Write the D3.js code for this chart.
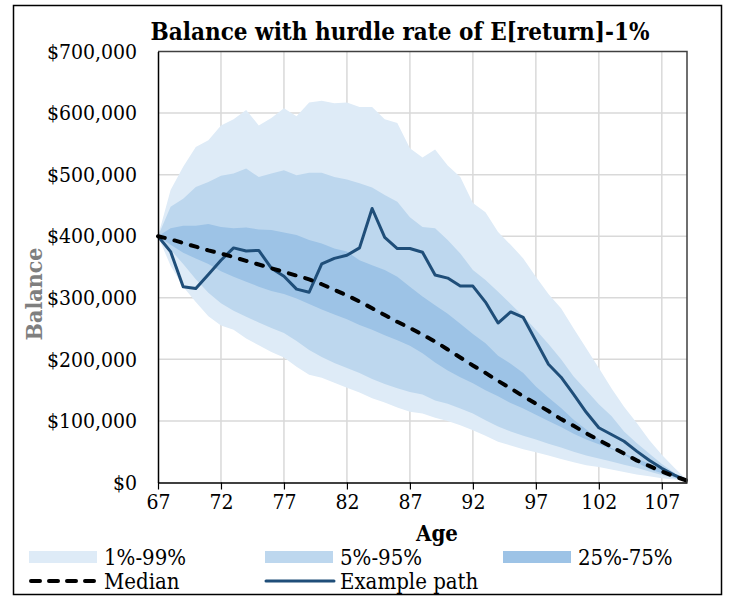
<!DOCTYPE html>
<html>
<head>
<meta charset="utf-8">
<script src="https://cdn.jsdelivr.net/npm/d3@7"></script>
<style>
  body { margin: 0; background: #fff; }
  svg text { font-family: "DejaVu Serif Condensed", "DejaVu Serif", serif; font-stretch: condensed; }
</style>
</head>
<body>
<svg width="729" height="597"></svg>
<script>
// ages 67..109, values in $000
var ages = d3.range(67, 110);

var p1  = [400,352,318,293,270,255,248,234,223,212,203,188,175,170,162,154,146,137,130,122,115,112,105,100,93,85,76,66,60,54,49,44,38,33,28,25,21,17,13,10,7,5,3];
var p5  = [400,378,355,330,308,291,279,269,260,251,243,230,215,204,194,186,178,168,160,153,147,143,133,128,120,112,101,91,83,76,70,63,57,50,44,39,34,29,24,18,12,7,3];
var p25 = [400,386,373,364,355,343,334,326,318,311,306,299,290,281,273,265,256,248,239,231,222,210,195,182,171,161,150,140,129,120,110,100,90,79,70,62,54,47,39,31,22,13,3];
var median = [400,395,389,383,377,372,366,360,354,348,342,336,330,322,313,304,294,283,272,261,251,240,229,216,203,190,178,165,153,140,128,116,103,92,80,69,58,47,36,27,18,10,3];
var p75 = [400,413,417,417,420,415,413,414,411,410,406,402,394,388,380,375,361,353,345,334,318,302,288,274,258,241,226,206,193,178,156,138,121,102,86,70,56,45,33,22,15,9,3];
var p95 = [400,448,461,480,488,498,502,510,496,502,507,499,503,503,496,492,486,479,467,456,431,415,413,394,372,345,329,310,290,270,248,225,200,172,150,127,108,83,64,47,30,16,3];
var p99 = [400,475,513,545,556,580,590,605,580,592,608,595,617,620,616,617,610,610,590,584,543,528,541,515,496,454,439,407,386,364,334,306,283,250,218,186,153,123,97,69,45,24,4];
var example = [400,375,318,315,338,361,381,376,377,348,335,314,309,355,364,369,381,445,398,380,380,374,337,332,319,319,293,259,277,268,230,192,171,143,114,89,78,67,51,36,23,12,3];

var xTicks = [67, 72, 77, 82, 87, 92, 97, 102, 107];
var yTicks = [0, 100000, 200000, 300000, 400000, 500000, 600000, 700000];

var bandNames = ["1%-99%", "5%-95%", "25%-75%"];
var bandColors = ["#deebf7", "#bdd7ee", "#9dc3e6"];
var pathColor = "#1f4e79";

var svg = d3.select("svg");

var x = d3.scaleLinear().domain([67, 109]).range([158, 687]),
    y = d3.scaleLinear().domain([0, 700000]).range([482.5, 51.5]);

var k = function(v) { return v * 1000; };

// outer frame
svg.append("rect")
    .attr("x", 13.5).attr("y", 5.5)
    .attr("width", 708).attr("height", 589)
    .attr("fill", "#fff")
    .attr("stroke", "#000")
    .attr("stroke-width", 1.5);

// gridlines
svg.append("g")
  .selectAll("line")
  .data(yTicks.slice(1, -1))
  .enter().append("line")
    .attr("x1", x(67)).attr("x2", x(109))
    .attr("y1", function(d) { return y(d); })
    .attr("y2", function(d) { return y(d); })
    .attr("stroke", "#d9d9d9")
    .attr("stroke-width", 1.5);

svg.append("g")
  .selectAll("line")
  .data(xTicks.slice(1))
  .enter().append("line")
    .attr("x1", function(d) { return x(d); })
    .attr("x2", function(d) { return x(d); })
    .attr("y1", y(0)).attr("y2", y(700000))
    .attr("stroke", "#d9d9d9")
    .attr("stroke-width", 1.5);

// bands
var bands = [[p1, p99], [p5, p95], [p25, p75]];

var area = d3.area()
    .x(function(d) { return x(d.age); })
    .y0(function(d) { return y(d.lo); })
    .y1(function(d) { return y(d.hi); });

bands.forEach(function(b, i) {
  svg.append("path")
      .datum(ages.map(function(a, j) { return {age: a, lo: k(b[0][j]), hi: k(b[1][j])}; }))
      .attr("fill", bandColors[i])
      .attr("d", area);
});

var line = d3.line()
    .x(function(d) { return x(d.age); })
    .y(function(d) { return y(d.v); });

svg.append("path")
    .datum(ages.map(function(a, j) { return {age: a, v: k(example[j])}; }))
    .attr("fill", "none")
    .attr("stroke", pathColor)
    .attr("stroke-width", 3)
    .attr("stroke-linejoin", "round")
    .attr("d", line);

svg.append("path")
    .datum(ages.map(function(a, j) { return {age: a, v: k(median[j])}; }))
    .attr("fill", "none")
    .attr("stroke", "#000")
    .attr("stroke-width", 4)
    .attr("stroke-linecap", "round")
    .attr("stroke-dasharray", "7,10")
    .attr("d", line);

// plot border (top/right)
svg.append("path")
    .attr("d", "M" + x(67) + "," + y(700000) + "H" + x(109) + "V" + y(0))
    .attr("fill", "none")
    .attr("stroke", "#404040")
    .attr("stroke-width", 1.5);

// axes
var xAxis = svg.append("g")
    .attr("transform", "translate(0," + y(0) + ")")
    .call(d3.axisBottom(x).tickValues(xTicks).tickSize(7).tickSizeOuter(0).tickFormat(d3.format("d")));
xAxis.select(".domain").attr("stroke", "#000").attr("stroke-width", 1.5);
xAxis.selectAll(".tick line").attr("stroke", "#000").attr("stroke-width", 1.2);
xAxis.selectAll("text")
    .attr("y", 12)
    .attr("fill", "#000")
    .style("font-size", "21px");

var yAxis = svg.append("g")
    .attr("transform", "translate(" + x(67) + ",0)")
    .call(d3.axisLeft(y).tickValues(yTicks).tickSize(0).tickPadding(21).tickFormat(function(d) { return "$" + d3.format(",")(d); }));
yAxis.select(".domain").attr("stroke", "#000").attr("stroke-width", 1.5);
yAxis.selectAll("text")
    .attr("fill", "#000")
    .style("font-size", "21px");
svg.selectAll("g").attr("font-family", null);

// titles
svg.append("text")
    .attr("x", 400).attr("y", 40)
    .attr("text-anchor", "middle")
    .style("font-size", "24px")
    .style("font-weight", "bold")
    .text("Balance with hurdle rate of E[return]-1%");

svg.append("text")
    .attr("x", 437).attr("y", 541)
    .attr("text-anchor", "middle")
    .style("font-size", "22px")
    .style("font-weight", "bold")
    .text("Age");

svg.append("text")
    .attr("transform", "translate(42,294) rotate(-90)")
    .attr("text-anchor", "middle")
    .attr("fill", "#7f7f7f")
    .style("font-size", "23px")
    .style("font-weight", "bold")
    .text("Balance");

// legend
var legX = [29, 265, 503];
bandNames.forEach(function(n, i) {
  svg.append("rect")
      .attr("x", legX[i]).attr("y", 551)
      .attr("width", 68).attr("height", 12)
      .attr("fill", bandColors[i]);
  svg.append("text")
      .attr("x", legX[i] + 75).attr("y", 565)
      .style("font-size", "22px")
      .text(n);
});

svg.append("line")
    .attr("x1", 31).attr("x2", 97).attr("y1", 581).attr("y2", 581)
    .attr("stroke", "#000").attr("stroke-width", 4)
    .attr("stroke-linecap", "round")
    .attr("stroke-dasharray", "9,9");
svg.append("text")
    .attr("x", 104).attr("y", 589)
    .style("font-size", "22px")
    .text("Median");

svg.append("line")
    .attr("x1", 266).attr("x2", 334).attr("y1", 581).attr("y2", 581)
    .attr("stroke", pathColor).attr("stroke-width", 3)
    .attr("stroke-linecap", "round");
svg.append("text")
    .attr("x", 340).attr("y", 589)
    .style("font-size", "22px")
    .text("Example path");
</script>
</body>
</html>
